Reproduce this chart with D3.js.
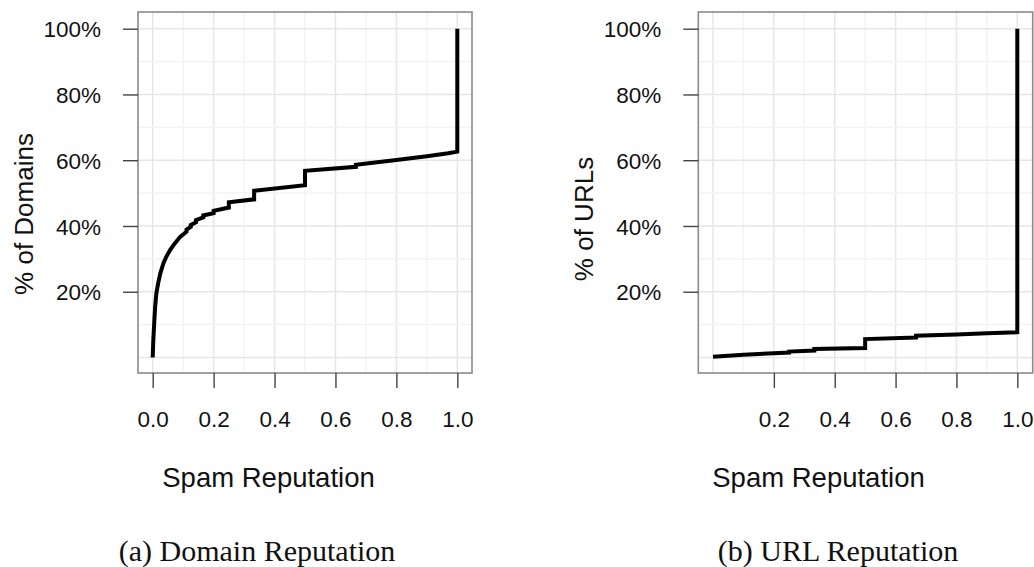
<!DOCTYPE html>
<html>
<head>
<meta charset="utf-8">
<script src="https://cdn.jsdelivr.net/npm/d3@7"></script>
<style>
body { margin: 0; background: #fff; }
text { font-family: "Liberation Sans", Arial, sans-serif; fill: #111; }
</style>
</head>
<body>
<svg id="chart" width="1034" height="567"></svg>
<script>
// cumulative share of domains by spam reputation
let domainX = [0, 0.002, 0.005, 0.008, 0.012, 0.018, 0.025, 0.035, 0.045, 0.057, 0.07, 0.09, 0.105,
	0.111, 0.111, 0.125, 0.125, 0.142, 0.142, 0.166, 0.166, 0.2, 0.2, 0.25, 0.25, 0.333, 0.333,
	0.5, 0.5, 0.667, 0.667, 0.8, 0.9, 0.97, 1.0, 1.0]
let domainY = [0, 5.3, 10.5, 15.4, 19.5, 22.6, 25.6, 28.6, 30.7, 32.7, 34.4, 36.7, 37.8,
	38.3, 38.9, 39.7, 40.3, 41.1, 41.8, 42.6, 43.2, 43.9, 44.6, 45.6, 47.2, 48.1, 50.7,
	52.4, 56.8, 58.0, 58.6, 60.1, 61.2, 62.1, 62.6, 100]

// cumulative share of URLs by spam reputation
let urlX = [0, 0.1, 0.2, 0.25, 0.25, 0.333, 0.333, 0.5, 0.5, 0.667, 0.667, 0.8, 0.9, 1.0, 1.0]
let urlY = [0.2, 0.8, 1.3, 1.5, 1.8, 2.1, 2.6, 2.9, 5.6, 6.1, 6.6, 7.0, 7.4, 7.7, 100]

let yTicks = [0.2, 0.4, 0.6, 0.8, 1.0]
let domainXTicks = [0, 0.2, 0.4, 0.6, 0.8, 1.0]
let urlXTicks = [0.2, 0.4, 0.6, 0.8, 1.0]
let gridSteps = d3.range(0, 11).map(i => i / 10)

let svg = d3.select("#chart")

let panels = [
	{ xs: domainX, ys: domainY, xTicks: domainXTicks, yLabel: "% of Domains",
		box: [138, 472], range: [152.7, 457.3], yLabelPos: [33, 214], xLabelX: 268.5,
		caption: "(a) Domain Reputation", captionX: 257 },
	{ xs: urlX, ys: urlY, xTicks: urlXTicks, yLabel: "% of URLs",
		box: [698.3, 1032.7], range: [713, 1017.3], yLabelPos: [593, 219], xLabelX: 818.5,
		caption: "(b) URL Reputation", captionX: 838 }
]

let boxTop = 12
let boxBottom = 373

let yscale = d3.scaleLinear()
	.domain([0, 1])
	.range([357.5, 28.7])

panels.forEach(drawPanel)

function drawPanel(p) {
	let xscale = d3.scaleLinear()
		.domain([0, 1])
		.range(p.range)

	let g = svg.append("g")

	//grid lines
	g.append("g").selectAll("line.v")
		.data(gridSteps)
		.enter()
		.append("line")
		.attr("x1", d => xscale(d))
		.attr("x2", d => xscale(d))
		.attr("y1", boxTop)
		.attr("y2", boxBottom)
		.attr("stroke", (d, i) => i % 2 == 0 ? "#e6e6e6" : "#f3f3f3")
		.attr("stroke-width", 1.5)

	g.append("g").selectAll("line.h")
		.data(gridSteps)
		.enter()
		.append("line")
		.attr("x1", p.box[0])
		.attr("x2", p.box[1])
		.attr("y1", d => yscale(d))
		.attr("y2", d => yscale(d))
		.attr("stroke", (d, i) => i % 2 == 0 ? "#e6e6e6" : "#f3f3f3")
		.attr("stroke-width", 1.5)

	//the curve
	let pts = p.xs.map((x, i) => ({ x: x, y: p.ys[i] / 100 }))
	let valueLine = d3.line()
		.x(d => xscale(d.x))
		.y(d => yscale(d.y))

	g.append("path")
		.datum(pts)
		.attr("d", valueLine)
		.attr("fill", "none")
		.attr("stroke", "#000")
		.attr("stroke-width", 4)
		.attr("stroke-linejoin", "miter")

	//box
	g.append("rect")
		.attr("x", p.box[0])
		.attr("y", boxTop)
		.attr("width", p.box[1] - p.box[0])
		.attr("height", boxBottom - boxTop)
		.attr("fill", "none")
		.attr("stroke", "#8a8a8a")
		.attr("stroke-width", 1.6)

	//y axis
	let yAxis = g.append("g")
		.attr("transform", "translate(" + p.box[0] + ",0)")
		.call(d3.axisLeft(yscale)
			.tickValues(yTicks)
			.tickFormat(d3.format(".0%"))
			.tickSize(15)
			.tickPadding(22))
	yAxis.select(".domain").remove()
	yAxis.selectAll("line").attr("stroke", "#444").attr("stroke-width", 1.4)
	yAxis.selectAll("text")
		.attr("font-size", 22.5)
		.attr("font-family", "Liberation Sans, Arial, sans-serif")
		.attr("fill", "#111")
		.attr("dy", "0.36em")

	//x axis
	let xAxis = g.append("g")
		.attr("transform", "translate(0," + boxBottom + ")")
		.call(d3.axisBottom(xscale)
			.tickValues(p.xTicks)
			.tickFormat(d3.format(".1f"))
			.tickSize(15)
			.tickPadding(23))
	xAxis.select(".domain").remove()
	xAxis.selectAll("line").attr("stroke", "#444").attr("stroke-width", 1.4)
	xAxis.selectAll("text")
		.attr("font-size", 22.5)
		.attr("font-family", "Liberation Sans, Arial, sans-serif")
		.attr("fill", "#111")

	//axis titles
	g.append("text")
		.attr("x", p.xLabelX)
		.attr("y", 487)
		.attr("text-anchor", "middle")
		.attr("font-size", 27.5)
		.text("Spam Reputation")

	g.append("text")
		.attr("transform", "translate(" + p.yLabelPos[0] + "," + p.yLabelPos[1] + ") rotate(-90)")
		.attr("text-anchor", "middle")
		.attr("font-size", 26)
		.text(p.yLabel)

	//caption
	g.append("text")
		.attr("x", p.captionX)
		.attr("y", 561)
		.attr("text-anchor", "middle")
		.attr("font-size", 30)
		.style("font-family", "'Liberation Serif', 'Times New Roman', serif")
		.text(p.caption)
}
</script>
</body>
</html>
